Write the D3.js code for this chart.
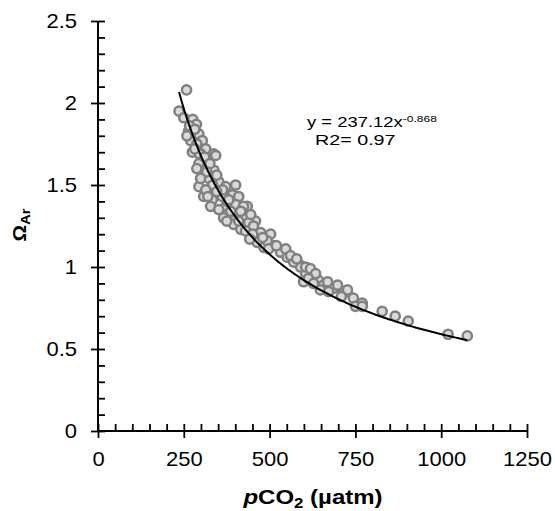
<!DOCTYPE html>
<html>
<head>
<meta charset="utf-8">
<script src="https://cdn.jsdelivr.net/npm/d3@7"></script>
<style>
  body { margin: 0; background: #fff; }
  text { font-family: "Liberation Sans", Arial, sans-serif; fill: #000; }
</style>
</head>
<body>
<svg id="chart" width="555" height="511"></svg>
<script>
// pCO2 (µatm) vs aragonite saturation
const pco2 = [258, 236, 250, 276, 287, 264, 294, 270, 304, 275, 314, 337, 299, 294, 319, 343, 295,
  338, 304, 323, 352, 372, 401, 294, 308, 333, 362, 392, 410, 328, 372, 401, 435, 366, 401, 430,
  459, 439, 377, 424, 395, 416, 439, 453, 474, 503, 464, 483, 512, 532, 551, 570, 590, 493, 590,
  605, 624, 642, 657, 686, 715, 744, 770, 750, 770, 599, 648, 828, 866, 904, 1020, 1076, 570,
  267, 282, 259, 288, 282, 311, 326, 288, 317, 346, 299, 334, 363, 314, 346, 381, 320, 352, 387,
  416, 445, 375, 410, 430, 451, 480, 442, 497, 520, 547, 561, 579, 605, 619, 634, 613, 669, 698,
  727, 628, 672, 709]
const omegaAr = [2.08, 1.95, 1.91, 1.90, 1.87, 1.83, 1.81, 1.77, 1.77, 1.70, 1.72, 1.69, 1.69, 1.63,
  1.66, 1.68, 1.69, 1.59, 1.56, 1.54, 1.52, 1.49, 1.50, 1.49, 1.43, 1.41, 1.43, 1.44, 1.43, 1.37,
  1.37, 1.38, 1.37, 1.30, 1.29, 1.31, 1.28, 1.26, 1.40, 1.37, 1.26, 1.23, 1.27, 1.25, 1.21, 1.20,
  1.15, 1.12, 1.13, 1.09, 1.06, 1.04, 1.01, 1.16, 1.00, 0.96, 0.95, 0.92, 0.89, 0.87, 0.84, 0.81,
  0.78, 0.76, 0.76, 0.91, 0.86, 0.73, 0.70, 0.67, 0.59, 0.58, 1.03,
  1.86, 1.84, 1.80, 1.75, 1.72, 1.67, 1.63, 1.60, 1.58, 1.56, 1.54, 1.50, 1.47, 1.47, 1.46, 1.41,
  1.43, 1.35, 1.34, 1.34, 1.32, 1.28, 1.28, 1.22, 1.20, 1.18, 1.17, 1.11, 1.13, 1.11, 1.07, 1.05,
  1.00, 0.99, 0.96, 0.93, 0.91, 0.89, 0.86, 0.90, 0.85, 0.82]

// power trendline shown on the chart: y = a * x^b
const fitA = 237.12
const fitB = -0.868
const eqLabel = ['y = 237.12x', '-0.868']
const r2Label = 'R2= 0.97'

const xMajor = [0, 250, 500, 750, 1000, 1250]
const yMajor = [0, 0.5, 1, 1.5, 2, 2.5]

const points = pco2.map((p, i) => ({ x: p, y: omegaAr[i] }))

const svg = d3.select('#chart')

const x = d3.scaleLinear().domain([0, 1250]).range([98, 527])
const y = d3.scaleLinear().domain([0, 2.5]).range([431, 21])

const xMinor = d3.range(0, 1251, 50).filter(v => v % 250 !== 0)
const yMinor = d3.range(0, 26, 1).map(v => v / 10).filter(v => Math.round(v * 10) % 5 !== 0)

const stretch = 1.1 // the original lettering is a bit wider than Arial

// y axis: outward major ticks with labels
let gy = svg.append('g').attr('transform', 'translate(98,0)')
gy.call(d3.axisLeft(y).tickValues(yMajor).tickSize(7).tickFormat(d3.format('')))
gy.append('g').call(d3.axisLeft(y).tickValues(yMajor.concat(yMinor)).tickSize(-7).tickFormat(''))
gy.selectAll('.tick text')
  .attr('x', -21 / stretch)
  .attr('transform', `scale(${stretch},1)`)

// x axis
let gx = svg.append('g').attr('transform', 'translate(0,431)')
gx.call(d3.axisBottom(x).tickValues(xMajor).tickSize(7).tickFormat(d3.format('d')))
gx.append('g').call(d3.axisBottom(x).tickValues(xMajor.concat(xMinor)).tickSize(-7).tickFormat(''))
gx.selectAll('.tick text')
  .attr('y', 21)
  .attr('transform', `scale(${stretch},1)`)

svg.selectAll('.domain').attr('stroke', '#000').attr('stroke-width', 2)
svg.selectAll('.tick line').attr('stroke', '#000').attr('stroke-width', 1.8)
svg.selectAll('.tick text').attr('font-size', 20).attr('font-family', '"Liberation Sans", Arial, sans-serif').attr('fill', '#000')
gy.selectAll('.domain').attr('d', 'M0,21V431')
gx.selectAll('.domain').attr('d', 'M98,0H527')

// points
svg.append('g')
  .selectAll('circle')
  .data(points)
  .join('circle')
  .attr('cx', d => x(d.x))
  .attr('cy', d => y(d.y))
  .attr('r', 4.6)
  .attr('fill', '#d9d9d9')
  .attr('stroke', '#808080')
  .attr('stroke-width', 2.5)

// trendline over the data range
const [x0, x1] = d3.extent(pco2)
const fitPts = d3.range(0, 101).map(i => {
  let xv = x0 + (x1 - x0) * i / 100
  return [xv, fitA * Math.pow(xv, fitB)]
})
svg.append('path')
  .datum(fitPts)
  .attr('fill', 'none')
  .attr('stroke', '#000')
  .attr('stroke-width', 2)
  .attr('d', d3.line().x(d => x(d[0])).y(d => y(d[1])))

// equation
let eq = svg.append('text').attr('transform', 'translate(307,127) scale(1.27,1)').attr('font-size', 14.5)
eq.append('tspan').text(eqLabel[0])
eq.append('tspan').attr('font-size', 9.5).attr('dy', -5).text(eqLabel[1])
svg.append('text').attr('transform', 'translate(315,145) scale(1.36,1)').attr('font-size', 14.5).text(r2Label)

// axis titles
let xt = svg.append('text').attr('transform', 'translate(313,504) scale(1.2,1)')
  .attr('text-anchor', 'middle').attr('font-size', 20).attr('font-weight', 'bold')
xt.append('tspan').attr('font-style', 'italic').text('p')
xt.append('tspan').text('CO')
xt.append('tspan').attr('font-size', 14).attr('dy', 4).text('2')
xt.append('tspan').attr('dy', -4).text(' (µatm)')

let yt = svg.append('text').attr('transform', 'translate(26,225) rotate(-90) scale(1.15,1)')
  .attr('text-anchor', 'middle').attr('font-size', 18).attr('font-weight', 'bold')
yt.append('tspan').text('Ω')
yt.append('tspan').attr('font-size', 13).attr('dy', 4).text('Ar')
</script>
</body>
</html>
